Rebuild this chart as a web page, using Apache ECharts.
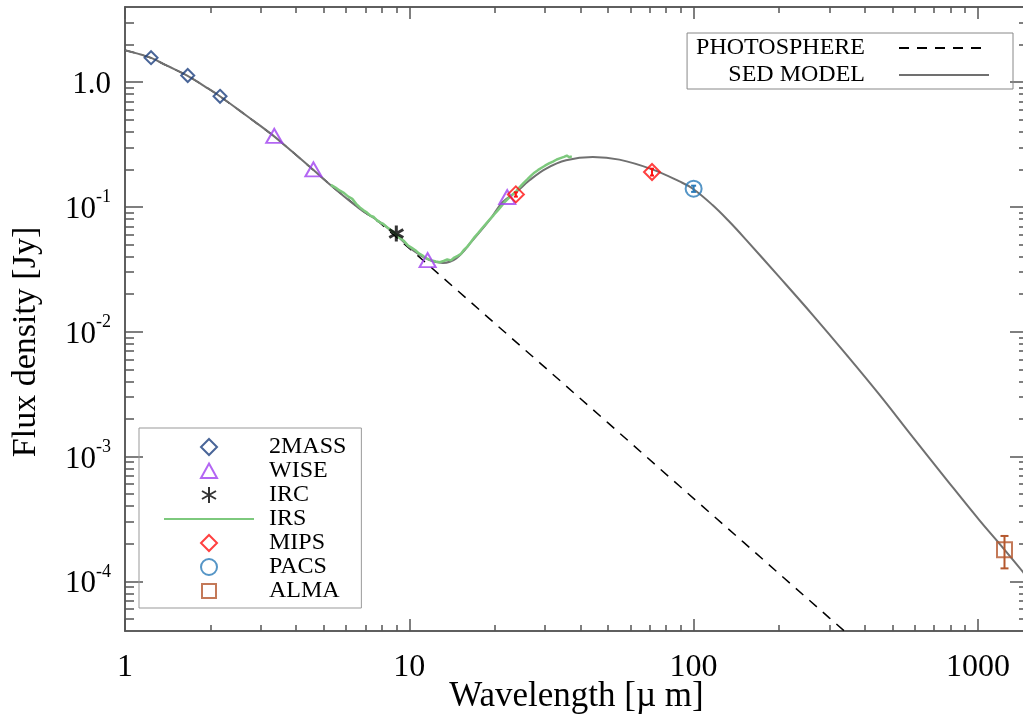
<!DOCTYPE html>
<html><head><meta charset="utf-8">
<script src="https://cdn.jsdelivr.net/npm/echarts@6/dist/echarts.min.js"></script>
<style>html,body{margin:0;padding:0;background:#fff;overflow:hidden}#c{width:1023px;height:715px}</style>
</head><body><div id="c"></div>
<script>
// ---- tick labels ----
const xMajorTicks = [1, 10, 100, 1000];
const xTickLabels = ['1', '10', '100', '1000'];
const yMajorTicks = [1e-4, 1e-3, 1e-2, 1e-1, 1];
const yTickLabels = ['10^-4', '10^-3', '10^-2', '10^-1', '1.0'];

// ---- SED model (grey solid) ----
const modelWave = [1.0, 1.1, 1.23, 1.4, 1.655, 1.9, 2.15, 2.67, 3.33, 3.89, 4.57, 5.38, 6.68, 7.86, 8.87, 10.29, 11.78, 13.12, 14.62, 16.72, 19.14, 21.32, 23.77, 26.48, 30.3, 35.6, 44.2, 54.8, 71.5, 89.2, 99.4, 116.8, 133.7, 153.3, 200, 262.5, 344, 451, 590, 773, 1013, 1191, 1435, 1500];
const modelFlux = [1.80, 1.70, 1.57, 1.36, 1.13, 0.93, 0.775, 0.54, 0.371, 0.275, 0.200, 0.1445, 0.097, 0.0759, 0.0613, 0.0451, 0.0375, 0.0356, 0.0387, 0.0542, 0.0783, 0.1096, 0.1318, 0.1636, 0.2028, 0.2364, 0.2512, 0.2394, 0.200, 0.160, 0.140, 0.1031, 0.0760, 0.0542, 0.0275, 0.0136, 0.00659, 0.00312, 0.00143, 6.6e-4, 3.08e-4, 2.0e-4, 1.2e-4, 1.05e-4];

// ---- photosphere (black dashed) ----
const photWave = [1.0, 1.1, 1.23, 1.4, 1.655, 1.9, 2.15, 2.67, 3.33, 3.89, 4.57, 5.38, 6.68, 7.86, 8.87, 10.29, 11.78, 13.1, 20, 30, 50, 89.2, 150, 200, 300, 360];
const photFlux = [1.80, 1.70, 1.57, 1.36, 1.13, 0.93, 0.775, 0.54, 0.371, 0.275, 0.200, 0.1445, 0.097, 0.0750, 0.0590, 0.0441, 0.0336, 0.0272, 0.01165, 0.00518, 0.00186, 5.8e-4, 2.05e-4, 1.15e-4, 5.1e-5, 3.55e-5];

// ---- IRS spectrum (green) ----
const irsWave = [5.3, 5.5, 5.7, 5.9, 6.1, 6.3, 6.5, 6.7, 6.9, 7.1, 7.3, 7.5, 7.7, 7.9, 8.1, 8.4, 8.7, 9.0, 9.3, 9.6, 9.9, 10.2, 10.5, 10.8, 11.1, 11.4, 11.7, 12.0, 12.4, 12.8, 13.2, 13.6, 14.0, 14.4, 14.8, 15.2, 15.6, 16.0, 16.5, 17.0, 17.5, 18.0, 18.6, 19.2, 19.8, 20.4, 21.0, 21.7, 22.4, 23.1, 23.8, 24.5, 25.2, 26.0, 26.8, 27.6, 28.4, 29.2, 30.0, 31.0, 32.0, 33.0, 34.0, 35.0, 35.8, 36.5, 37.3];
const irsFlux = [0.150, 0.143, 0.135, 0.129, 0.121, 0.116, 0.106, 0.099, 0.094, 0.090, 0.085, 0.083, 0.078, 0.075, 0.073, 0.068, 0.064, 0.060, 0.056, 0.053, 0.049, 0.047, 0.045, 0.0425, 0.041, 0.039, 0.038, 0.0372, 0.0366, 0.0361, 0.0369, 0.0379, 0.0373, 0.0393, 0.0406, 0.0421, 0.0455, 0.0481, 0.0526, 0.0576, 0.0621, 0.0672, 0.0731, 0.0796, 0.0861, 0.0931, 0.1005, 0.110, 0.118, 0.126, 0.134, 0.145, 0.155, 0.166, 0.178, 0.189, 0.198, 0.206, 0.214, 0.223, 0.231, 0.240, 0.246, 0.252, 0.258, 0.250, 0.254];

// ---- photometry ----
const twomassWave = [1.235, 1.662, 2.159];
const twomassFlux = [1.57, 1.13, 0.77];
const wiseWave = [3.35, 4.6, 11.6, 22.1];
const wiseFlux = [0.371, 0.200, 0.0375, 0.120];
const ircWave = [9.0];
const ircFlux = [0.0613];
const mipsWave = [23.7, 71.4];
const mipsFlux = [0.126, 0.1905];
const mipsErr = [0.005, 0.012];
const pacsWave = [100];
const pacsFlux = [0.140];
const pacsErr = [0.008];
const almaWave = [1240];
const almaFlux = [1.79e-4];
const almaErr = [0.52e-4];

// ---- styling ----
const FONT = 'Liberation Serif';
const AX = '#555555';
const X_MIN = 1, X_MAX = 1500, Y_MIN = 4e-5, Y_MAX = 4;

function minorLog(lo, hi) {
  const out = [];
  for (let d = Math.floor(Math.log10(lo)); d <= Math.ceil(Math.log10(hi)); d++) {
    for (let k = 2; k <= 9; k++) {
      const v = parseFloat((k * Math.pow(10, d)).toPrecision(6));
      if (v > lo && v < hi) out.push(v);
    }
  }
  return out;
}
const xMinor = minorLog(X_MIN, X_MAX);
const yMinor = minorLog(Y_MIN, Y_MAX);

function closestIdx(arr, v) {
  let b = 0, bd = Infinity;
  arr.forEach((a, i) => { const d = Math.abs(Math.log10(a) - Math.log10(v)); if (d < bd) { bd = d; b = i; } });
  return b;
}

function axis(kind, pos, ticks, len, label) {
  const o = {
    type: 'log', logBase: 10, position: pos,
    min: kind === 'x' ? X_MIN : Y_MIN, max: kind === 'x' ? X_MAX : Y_MAX,
    axisLine: { show: true, onZero: false, lineStyle: { color: AX, width: 1.5 } },
    axisTick: { show: true, inside: true, length: len, customValues: ticks, lineStyle: { color: AX, width: 1.5 } },
    splitLine: { show: false }, minorTick: { show: false }, minorSplitLine: { show: false },
    axisLabel: { show: false }
  };
  if (label) o.axisLabel = label;
  return o;
}

const xLabel = {
  show: true, customValues: xMajorTicks, margin: 21, color: '#000', fontFamily: FONT, fontSize: 32,
  formatter: v => xTickLabels[closestIdx(xMajorTicks, v)]
};
const yLabel = {
  show: true, customValues: yMajorTicks, margin: 14, color: '#000', fontFamily: FONT, fontSize: 31,
  formatter: v => {
    const lab = yTickLabels[closestIdx(yMajorTicks, v)];
    if (lab.indexOf('^') < 0) return '{b|' + lab + '}';
    const p = lab.split('^');
    return '{b|' + p[0] + '}{s|' + p[1] + '}';
  },
  rich: {
    b: { fontFamily: FONT, fontSize: 31, color: '#000', padding: [6, 0, 0, 0] },
    s: { fontFamily: FONT, fontSize: 18, color: '#000', verticalAlign: 'top' }
  }
};

const xAxes = [
  Object.assign(axis('x', 'bottom', xMajorTicks, 12, xLabel), {
    name: 'Wavelength [\u00b5 m]', nameLocation: 'middle', nameGap: 48, nameMoveOverlap: false,
    nameTextStyle: { fontFamily: FONT, fontSize: 35, color: '#000' }
  }),
  axis('x', 'bottom', xMinor, 6),
  axis('x', 'top', xMajorTicks, 12),
  axis('x', 'top', xMinor, 6)
];
const yAxes = [
  Object.assign(axis('y', 'left', yMajorTicks, 18, yLabel), {
    name: 'Flux density [Jy]', nameLocation: 'middle', nameGap: 82, nameMoveOverlap: false,
    nameTextStyle: { fontFamily: FONT, fontSize: 34, color: '#000', padding: [0, 46, 0, 0] }
  }),
  axis('y', 'left', yMinor, 9),
  axis('y', 'right', yMajorTicks, 18),
  axis('y', 'right', yMinor, 9)
];

function pairs(w, f) { return w.map((x, i) => [x, f[i]]); }

function scat(name, w, f, symbol, size, color, bw) {
  return {
    name, type: 'scatter', data: pairs(w, f), symbol, symbolSize: size, symbolKeepAspect: true,
    itemStyle: { color: 'rgba(255,255,255,0)', borderColor: color, borderWidth: bw || 2 }, z: 5
  };
}

function errBars(w, f, e, color, cap) {
  return {
    type: 'custom', silent: true, z: 6,
    data: w.map((x, i) => [x, f[i] - e[i], f[i] + e[i]]),
    encode: { x: 0, y: [1, 2] },
    renderItem: (params, api) => {
      const lo = api.coord([api.value(0), api.value(1)]);
      const hi = api.coord([api.value(0), api.value(2)]);
      const st = { stroke: color, lineWidth: 2 };
      return {
        type: 'group', children: [
          { type: 'line', shape: { x1: lo[0], y1: lo[1], x2: hi[0], y2: hi[1] }, style: st },
          { type: 'line', shape: { x1: lo[0] - cap, y1: lo[1], x2: lo[0] + cap, y2: lo[1] }, style: st },
          { type: 'line', shape: { x1: hi[0] - cap, y1: hi[1], x2: hi[0] + cap, y2: hi[1] }, style: st }
        ]
      };
    }
  };
}

const C = {
  model: '#707070', phot: '#000000', irs: '#7dc97d', twomass: '#1c3f7e', wise: '#a040f0',
  irc: '#000000', mips: '#ff1010', pacs: '#2a7ab8', alma: '#b5582e'
};
const asterisk = 'path://M0,-8L0,8M-7,-4L7,4M-7,4L7,-4';
const NONE = 'rgba(0,0,0,0)';

// legend icons: a 90x16 box with the marker drawn in its middle
const BOX = 'path://M0,0M90,16';
const legendIcons = {
  '2MASS': BOX + 'M45,0L53,8L45,16L37,8Z',
  'WISE': BOX + 'M45,0.5L53,15L37,15Z',
  'IRC': BOX + 'M45,0L45,16M38,4L52,12M38,12L52,4',
  'MIPS': BOX + 'M45,0L53,8L45,16L37,8Z',
  'PACS': BOX + 'M53,8A8,8,0,1,1,37,8A8,8,0,1,1,53,8Z',
  'ALMA': BOX + 'M38,1L52,1L52,15L38,15Z'
};

const series = [
  { name: 'PHOTOSPHERE', type: 'line', data: pairs(photWave, photFlux), symbol: 'none', z: 1,
    lineStyle: { color: C.phot, width: 1.5, type: [10, 8] }, itemStyle: { color: NONE } },
  { name: 'SED MODEL', type: 'line', data: pairs(modelWave, modelFlux), symbol: 'none', smooth: 0.4, z: 2,
    lineStyle: { color: C.model, width: 2 }, itemStyle: { color: NONE } },
  { name: 'IRS', type: 'line', data: pairs(irsWave, irsFlux), symbol: 'none', z: 3,
    lineStyle: { color: C.irs, width: 2.5 }, itemStyle: { color: NONE } },
  scat('2MASS', twomassWave, twomassFlux, 'diamond', 13, C.twomass),
  scat('WISE', wiseWave, wiseFlux, 'triangle', [16, 14], C.wise),
  scat('IRC', ircWave, ircFlux, asterisk, 16, C.irc, 3),
  scat('MIPS', mipsWave, mipsFlux, 'diamond', 16, C.mips),
  scat('PACS', pacsWave, pacsFlux, 'circle', 16, C.pacs),
  scat('ALMA', almaWave, almaFlux, 'rect', 15, C.alma),
  errBars(mipsWave, mipsFlux, mipsErr, C.mips, 2),
  errBars(pacsWave, pacsFlux, pacsErr, C.pacs, 2.5),
  errBars(almaWave, almaFlux, almaErr, C.alma, 4)
];

const legendText = { fontFamily: FONT, fontSize: 24, color: '#000', lineHeight: 23 };
const legend2Names = ['2MASS', 'WISE', 'IRC', 'IRS', 'MIPS', 'PACS', 'ALMA'];

const option = {
  animation: false,
  backgroundColor: '#fff',
  grid: { left: 125, right: -5, top: 7, bottom: 84, containLabel: false, outerBoundsMode: 'none' },
  xAxis: xAxes,
  yAxis: yAxes,
  legend: [
    {
      data: ['PHOTOSPHERE', 'SED MODEL'], orient: 'vertical', align: 'right',
      right: 10, top: 33, itemWidth: 90, itemHeight: 14, itemGap: 3, selectedMode: false,
      padding: [3, 23, 2, 9], borderColor: '#888', borderWidth: 1,
      textStyle: Object.assign({}, legendText, { padding: [0, 29, 0, 0] })
    },
    {
      data: legend2Names.map(n => legendIcons[n] ? { name: n, icon: legendIcons[n] } : n),
      orient: 'vertical',
      left: 139, top: 428, itemWidth: 90, itemHeight: 16, itemGap: 0, selectedMode: false,
      padding: [7, 15, 5, 24], borderColor: '#999', borderWidth: 1,
      textStyle: Object.assign({}, legendText, { padding: [0, 0, 0, 10] })
    }
  ],
  series
};

const chart = echarts.init(document.getElementById('c'), null, { renderer: 'canvas' });
chart.setOption(option);
</script>
</body></html>
